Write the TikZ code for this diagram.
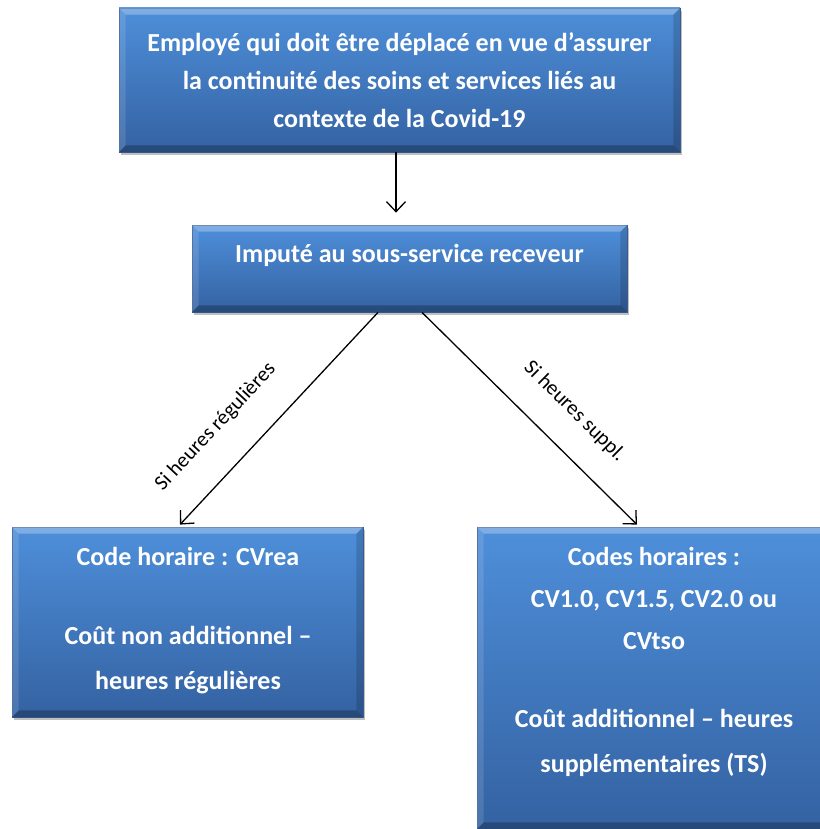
\documentclass[tikz,border=0pt]{standalone}
\usepackage{fontspec}
\setmainfont{Carlito}
\usetikzlibrary{arrows.meta,shadows,positioning}

\definecolor{boxtop}{RGB}{78,143,218}
\definecolor{boxbot}{RGB}{52,98,162}
\definecolor{boxedge}{RGB}{60,95,150}

\tikzset{
  bluebox/.style={rectangle, draw=boxedge, line width=0.8pt,
    top color=boxtop, bottom color=boxbot, inner sep=0pt,
    drop shadow={shadow xshift=2pt, shadow yshift=-3pt, opacity=0.5}},
  boxtext/.style={text=white, align=center, inner sep=0pt,
    font=\fontsize{26}{38}\selectfont\bfseries},
  flow/.style={-{Straight Barb[length=10pt,width=19pt]}, line width=1.3pt},
  cond/.style={font=\fontsize{21}{22}\selectfont, sloped, inner sep=0pt}
}

% bevelled rim of a box
\newcommand{\bevel}[1]{%
  \fill[white, opacity=0.28] (#1.north west) -- (#1.north east)
    -- ([xshift=-7pt,yshift=-7pt]#1.north east) -- ([xshift=7pt,yshift=-7pt]#1.north west) -- cycle;
  \fill[white, opacity=0.12] (#1.north west) -- ([xshift=7pt,yshift=-7pt]#1.north west)
    -- ([xshift=7pt,yshift=7pt]#1.south west) -- (#1.south west) -- cycle;
  \fill[black, opacity=0.15] (#1.north east) -- ([xshift=-7pt,yshift=-7pt]#1.north east)
    -- ([xshift=-7pt,yshift=7pt]#1.south east) -- (#1.south east) -- cycle;
  \fill[black, opacity=0.25] (#1.south west) -- ([xshift=7pt,yshift=7pt]#1.south west)
    -- ([xshift=-7pt,yshift=7pt]#1.south east) -- (#1.south east) -- cycle;
}

\begin{document}
\begin{tikzpicture}[x=1pt, y=-1pt]
  \useasboundingbox (0,0) rectangle (819,829);

  % boxes
  \node[bluebox, minimum width=561pt, minimum height=144pt] (employe) at (399.5,80) {};
  \node[bluebox, minimum width=435pt, minimum height=87pt] (impute) at (409.5,268.5) {};
  \node[bluebox, minimum width=351pt, minimum height=190pt] (regul) at (187.5,622) {};
  \node[bluebox, minimum width=360pt, minimum height=302pt] (suppl) at (657,678) {};
  \bevel{employe} \bevel{impute} \bevel{regul} \bevel{suppl}

  % texts
  \node[boxtext] (employetxt) at (399.5,80)
    {Employé qui doit être déplacé en vue d’assurer\\
     la continuité des soins et services liés au\\
     contexte de la Covid-19};
  \node[boxtext] (imputetxt) at (409.5,255) {Imputé au sous-service receveur};
  \node[boxtext, anchor=north, font=\fontsize{26}{45}\selectfont\bfseries] (regultxt) at (188,547)
    {Code horaire : CVrea\\[34pt]
     Coût non additionnel –\\
     heures régulières};
  \node[boxtext, anchor=north, font=\fontsize{26}{42}\selectfont\bfseries] (suppltxt) at (654,547)
    {Codes horaires :\\
     CV1.0, CV1.5, CV2.0 ou\\
     CVtso\\[36pt]
     Coût additionnel – heures\\[3pt]
     supplémentaires (TS)};

  % arrows
  \draw[flow] ([xshift=-3.5pt]employe.south) -- ([xshift=-13.5pt,yshift=12pt]impute.north);
  \draw[flow] ([xshift=-31.5pt]impute.south) -- ([xshift=-7.5pt,yshift=2pt]regul.north)
    node[cond, pos=0.67, above=31pt] (lblregul) {Si heures régulières};
  \draw[flow] ([xshift=12.5pt]impute.south) -- ([xshift=-20pt,yshift=2pt]suppl.north)
    node[cond, pos=0.59, above=27pt] (lblsuppl) {Si heures suppl.};
\end{tikzpicture}
\end{document}
